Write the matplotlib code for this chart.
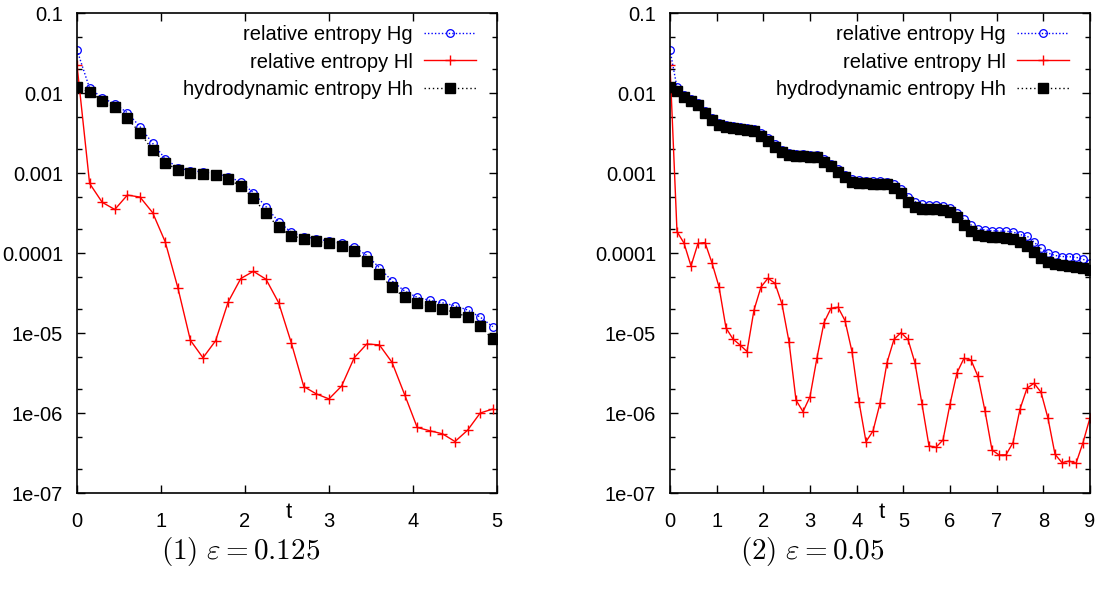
import matplotlib
matplotlib.use("Agg")
import matplotlib.pyplot as plt
from matplotlib.ticker import FixedLocator, FixedFormatter, NullFormatter

plt.rcParams['font.family'] = ['Liberation Sans', 'DejaVu Sans']
plt.rcParams['mathtext.fontset'] = 'cm'

# ---------------- data ----------------
t_left = [0, 0.15, 0.3, 0.45, 0.6, 0.75, 0.9, 1.05, 1.2, 1.35, 1.5, 1.65, 1.8, 1.95,
          2.1, 2.25, 2.4, 2.55, 2.7, 2.85, 3.0, 3.15, 3.3, 3.45, 3.6, 3.75, 3.9, 4.05,
          4.2, 4.35, 4.5, 4.65, 4.8, 4.95]

hg_left = [0.0345, 0.01145, 0.00873, 0.00729, 0.00567, 0.00379, 0.00235, 0.00151,
           0.00116, 0.00107, 0.00103, 0.00098, 0.0009, 0.000772, 0.000567, 0.000379,
           0.000246, 0.000182, 0.00016, 0.00015, 0.000141, 0.000132, 0.000118,
           9.36e-5, 6.55e-5, 4.47e-5, 3.35e-5, 2.79e-5, 2.56e-5, 2.39e-5, 2.19e-5,
           1.94e-5, 1.58e-5, 1.2e-5]

hl_left = [0.0224, 7.4e-4, 4.3e-4, 3.5e-4, 5.3e-4, 5.0e-4, 3.2e-4, 1.38e-4, 3.7e-5,
           8.1e-6, 4.9e-6, 8.0e-6, 2.45e-5, 4.8e-5, 5.9e-5, 4.7e-5, 2.4e-5, 7.6e-6,
           2.14e-6, 1.73e-6, 1.5e-6, 2.17e-6, 4.9e-6, 7.3e-6, 7.1e-6, 4.3e-6, 1.7e-6,
           6.6e-7, 6.0e-7, 5.5e-7, 4.4e-7, 6.1e-7, 1.0e-6, 1.12e-6]

hh_left = [0.01178, 0.0102, 0.00794, 0.00668, 0.00483, 0.00319, 0.00194, 0.00135,
           0.00109, 0.001, 0.00097, 0.000944, 0.000834, 0.000688, 0.000483, 0.000313,
           0.00021, 0.000165, 0.00015, 0.00014, 0.000132, 0.000121, 0.000106,
           7.87e-5, 5.42e-5, 3.73e-5, 2.79e-5, 2.39e-5, 2.16e-5, 1.98e-5, 1.82e-5,
           1.58e-5, 1.23e-5, 8.34e-6]

t_right = [0, 0.15, 0.3, 0.45, 0.6, 0.75, 0.9, 1.05, 1.2, 1.35, 1.5, 1.65, 1.8, 1.95,
           2.1, 2.25, 2.4, 2.55, 2.7, 2.85, 3.0, 3.15, 3.3, 3.45, 3.6, 3.75, 3.9, 4.05,
           4.2, 4.35, 4.5, 4.65, 4.8, 4.95, 5.1, 5.25, 5.4, 5.55, 5.7, 5.85, 6.0, 6.15,
           6.3, 6.45, 6.6, 6.75, 6.9, 7.05, 7.2, 7.35, 7.5, 7.65, 7.8, 7.95, 8.1, 8.25,
           8.4, 8.55, 8.7, 8.85, 9.0]

hg_right = [0.0345, 0.01172, 0.00944, 0.00853, 0.0075, 0.00596, 0.00487, 0.00416,
            0.00393, 0.00384, 0.00376, 0.00367, 0.00355, 0.00316, 0.0027, 0.00229,
            0.00194, 0.00178, 0.00173, 0.00171, 0.0017, 0.00168, 0.0015, 0.00131,
            0.00112, 0.000957, 0.000841, 0.000806, 0.000801, 0.000794, 0.00079,
            0.000765, 0.000722, 0.000626, 0.000506, 0.000438, 0.00041, 0.000398,
            0.000397, 0.000387, 0.000368, 0.000319, 0.000264, 0.000224, 0.0002,
            0.000194, 0.00019, 0.000188, 0.000187, 0.000183, 0.00017, 0.000163,
            0.000137, 0.000114, 0.0001, 9.31e-5, 9.04e-5, 8.99e-5, 8.84e-5, 8.34e-5,
            7.6e-5]

hl_right = [0.0224, 1.85e-4, 1.33e-4, 6.88e-5, 1.32e-4, 1.35e-4, 7.5e-5, 3.79e-5,
            1.155e-5, 8.41e-6, 7.08e-6, 5.87e-6, 1.94e-5, 3.76e-5, 4.84e-5, 4.18e-5,
            2.29e-5, 7.79e-6, 1.45e-6, 1.04e-6, 1.6e-6, 4.91e-6, 1.35e-5, 2.04e-5,
            2.1e-5, 1.43e-5, 5.84e-6, 1.38e-6, 4.38e-7, 5.96e-7, 1.32e-6, 4.26e-6,
            8.34e-6, 1.01e-5, 8.3e-6, 4.22e-6, 1.29e-6, 3.87e-7, 3.73e-7, 4.6e-7,
            1.29e-6, 3.19e-6, 4.83e-6, 4.6e-6, 2.86e-6, 1.06e-6, 3.45e-7, 2.99e-7,
            3.0e-7, 4.26e-7, 1.12e-6, 2.04e-6, 2.35e-6, 1.82e-6, 8.59e-7, 3.05e-7,
            2.39e-7, 2.51e-7, 2.35e-7, 4.26e-7, 8.73e-7]

hh_right = [0.01178, 0.01069, 0.00891, 0.00801, 0.00698, 0.00557, 0.0046, 0.00393,
            0.00371, 0.00362, 0.00353, 0.00345, 0.00332, 0.00292, 0.00251, 0.00213,
            0.00182, 0.00166, 0.00162, 0.00161, 0.0016, 0.00157, 0.00138, 0.00122,
            0.00104, 0.000884, 0.000779, 0.000745, 0.00074, 0.000738, 0.000735,
            0.000722, 0.000655, 0.000557, 0.000438, 0.000379, 0.000355, 0.000352,
            0.00035, 0.000345, 0.000323, 0.000279, 0.000224, 0.000188, 0.000168,
            0.000163, 0.00016, 0.000157, 0.000155, 0.000148, 0.000139, 0.000122,
            0.000103, 8.66e-5, 7.79e-5, 7.22e-5, 7.08e-5, 6.94e-5, 6.74e-5, 6.44e-5,
            6.13e-5]

y_ticks = [1e-7, 1e-6, 1e-5, 1e-4, 1e-3, 1e-2, 1e-1]
y_tick_labels = ['1e-07', '1e-06', '1e-05', '0.0001', '0.001', '0.01', '0.1']
x_ticks_left = [0, 1, 2, 3, 4, 5]
x_ticks_right = [0, 1, 2, 3, 4, 5, 6, 7, 8, 9]
labels = ['relative entropy Hg', 'relative entropy Hl', 'hydrodynamic entropy Hh']
captions = [r'$(1)\ \varepsilon = 0.125$', r'$(2)\ \varepsilon = 0.05$']

# ---------------- figure ----------------
W, H = 1107, 593
fig = plt.figure(figsize=(W / 100, H / 100), dpi=100)

ax_l = fig.add_axes([77 / W, 1 - 493 / H, 420 / W, 480 / H])
ax_r = fig.add_axes([670 / W, 1 - 493 / H, 420 / W, 480 / H])

minor_pos = []
for dec in [1e-7, 1e-6, 1e-5, 1e-4, 1e-3, 1e-2]:
    minor_pos += [2 * dec, 5 * dec]


def draw(ax, t, hg, hl, hh, xt, xmax, cap, cap_x):
    ax.plot(t, hg, color='#0000ff', linestyle=(0, (1, 1.5)), linewidth=1.0,
            marker='o', markersize=5.5, markerfacecolor='none', markeredgecolor='#0000ff',
            markeredgewidth=0.9, label=labels[0])
    ax.plot(t, hl, color='#ff0000', linestyle='-', linewidth=1.0,
            marker='+', markersize=7, markeredgewidth=1.0, label=labels[1])
    ax.plot(t, hh, color='black', linestyle=(0, (1, 2)), linewidth=1.0,
            marker='s', markersize=6.8, markerfacecolor='black', markeredgecolor='black',
            label=labels[2])
    ax.set_yscale('log')
    ax.set_xlim(0, xmax)
    ax.set_ylim(1e-7, 0.1)
    ax.yaxis.set_major_locator(FixedLocator(y_ticks))
    ax.yaxis.set_major_formatter(FixedFormatter(y_tick_labels))
    ax.yaxis.set_minor_locator(FixedLocator(minor_pos))
    ax.yaxis.set_minor_formatter(NullFormatter())
    ax.set_xticks(xt)
    ax.set_xticklabels([str(v) for v in xt])
    ax.tick_params(axis='both', which='major', direction='in', length=6, width=1.0,
                   top=True, right=True, labelsize=14.5)
    ax.tick_params(axis='y', which='minor', direction='in', length=3.5, width=1.0,
                   left=True, right=True)
    ax.tick_params(axis='x', which='major', pad=14)
    ax.tick_params(axis='y', which='major', pad=10)
    for s in ax.spines.values():
        s.set_linewidth(1.2)
    ax.text(0.505, -0.04, 't', transform=ax.transAxes, ha='center', va='center',
            fontsize=16)
    ax.legend(loc='upper right', bbox_to_anchor=(0.95, 0.974), borderaxespad=0,
              borderpad=0, frameon=False, markerfirst=False, fontsize=14.5,
              handlelength=2.6, handletextpad=0.55, labelspacing=0.4)
    fig.text(cap_x / W, 1 - 551 / H, cap, ha='center', va='center', fontsize=21)


draw(ax_l, t_left, hg_left, hl_left, hh_left, x_ticks_left, 5, captions[0], 241)
draw(ax_r, t_right, hg_right, hl_right, hh_right, x_ticks_right, 9, captions[1], 812)

fig.savefig('out.png', dpi=100)
